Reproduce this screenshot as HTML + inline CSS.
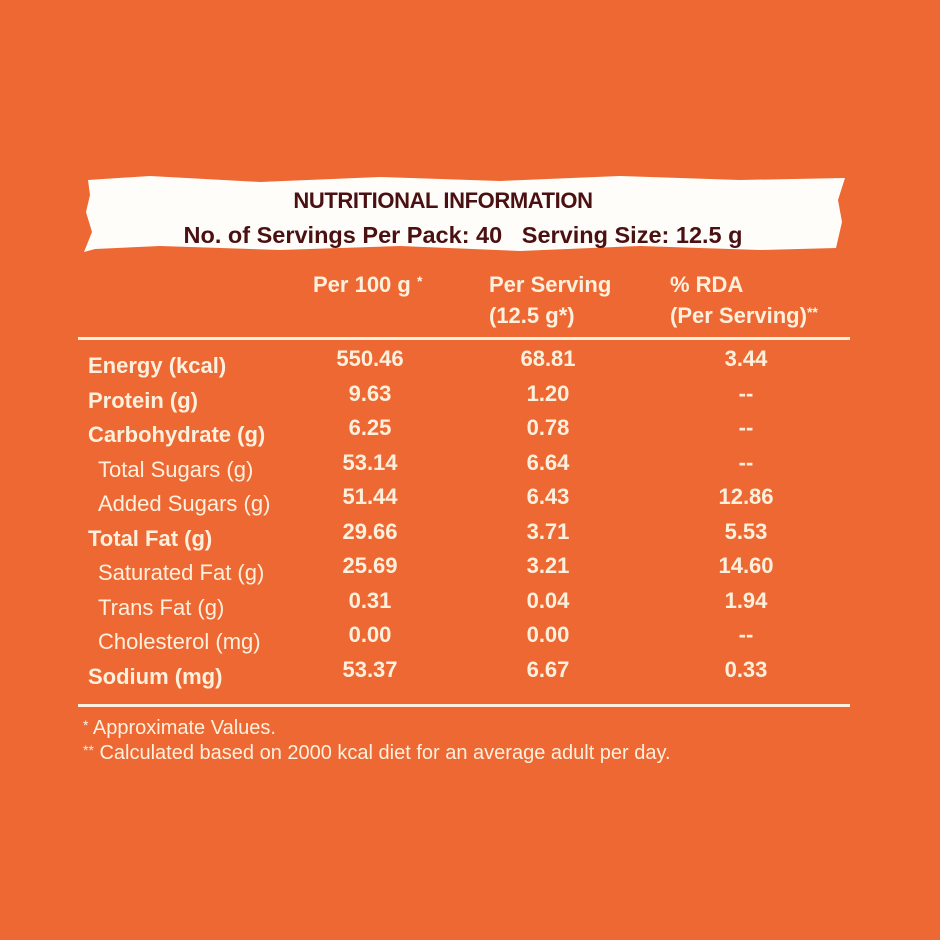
<!DOCTYPE html>
<html><head><meta charset="utf-8"><style>
html,body{margin:0;padding:0}
body{width:940px;height:940px;background:#ee6834;position:relative;overflow:hidden;font-family:"Liberation Sans",sans-serif;color:#fdf1de}
.t{position:absolute;white-space:nowrap;font-size:22px;line-height:1}
.b{font-weight:bold}
.c{transform:translateX(-50%)}
.ln{position:absolute;left:78px;width:772px;height:3px;background:#fdf1de}
.h{position:absolute;white-space:nowrap;font-weight:bold;color:#4a1012;font-size:24px;line-height:1;transform:translateX(-50%)}
</style></head><body>
<svg style="position:absolute;left:0;top:0" width="940" height="940">
<polygon fill="#fffdfa" points="88,180 150,176 260,182 380,177 500,181 620,176 740,180 845,178 838,200 842,222 836,248 760,250 640,246 520,251 400,246 280,250 160,246 95,249 84,252 92,232 86,212 90,195"/>
</svg>
<div class="h" style="left:443px;top:190px;font-size:22px;letter-spacing:-0.4px">NUTRITIONAL INFORMATION</div>
<div class="h" style="left:463px;top:224px;font-size:23.5px">No. of Servings Per Pack: 40&nbsp;&nbsp;&nbsp;Serving Size: 12.5 g</div>

<div class="t b" style="left:313px;top:274px">Per 100 g <span style="font-size:14px;vertical-align:top">*</span></div>
<div class="t b" style="left:489px;top:274px">Per Serving</div>
<div class="t b" style="left:489px;top:305px">(12.5 g*)</div>
<div class="t b" style="left:670px;top:274px">% RDA</div>
<div class="t b" style="left:670px;top:305px">(Per Serving)<span style="font-size:14px;vertical-align:top">**</span></div>
<div class="ln" style="top:337px"></div>

<div class="t b" style="left:88px;top:355px">Energy (kcal)</div>
<div class="t b" style="left:88px;top:390px">Protein (g)</div>
<div class="t b" style="left:88px;top:424px">Carbohydrate (g)</div>
<div class="t" style="left:98px;top:459px">Total Sugars (g)</div>
<div class="t" style="left:98px;top:493px">Added Sugars (g)</div>
<div class="t b" style="left:88px;top:528px">Total Fat (g)</div>
<div class="t" style="left:98px;top:562px">Saturated Fat (g)</div>
<div class="t" style="left:98px;top:597px">Trans Fat (g)</div>
<div class="t" style="left:98px;top:631px">Cholesterol (mg)</div>
<div class="t b" style="left:88px;top:666px">Sodium (mg)</div>

<div class="t b c" style="left:370px;top:348px">550.46</div>
<div class="t b c" style="left:370px;top:383px">9.63</div>
<div class="t b c" style="left:370px;top:417px">6.25</div>
<div class="t b c" style="left:370px;top:452px">53.14</div>
<div class="t b c" style="left:370px;top:486px">51.44</div>
<div class="t b c" style="left:370px;top:521px">29.66</div>
<div class="t b c" style="left:370px;top:555px">25.69</div>
<div class="t b c" style="left:370px;top:590px">0.31</div>
<div class="t b c" style="left:370px;top:624px">0.00</div>
<div class="t b c" style="left:370px;top:659px">53.37</div>

<div class="t b c" style="left:548px;top:348px">68.81</div>
<div class="t b c" style="left:548px;top:383px">1.20</div>
<div class="t b c" style="left:548px;top:417px">0.78</div>
<div class="t b c" style="left:548px;top:452px">6.64</div>
<div class="t b c" style="left:548px;top:486px">6.43</div>
<div class="t b c" style="left:548px;top:521px">3.71</div>
<div class="t b c" style="left:548px;top:555px">3.21</div>
<div class="t b c" style="left:548px;top:590px">0.04</div>
<div class="t b c" style="left:548px;top:624px">0.00</div>
<div class="t b c" style="left:548px;top:659px">6.67</div>

<div class="t b c" style="left:746px;top:348px">3.44</div>
<div class="t b c" style="left:746px;top:383px">--</div>
<div class="t b c" style="left:746px;top:417px">--</div>
<div class="t b c" style="left:746px;top:452px">--</div>
<div class="t b c" style="left:746px;top:486px">12.86</div>
<div class="t b c" style="left:746px;top:521px">5.53</div>
<div class="t b c" style="left:746px;top:555px">14.60</div>
<div class="t b c" style="left:746px;top:590px">1.94</div>
<div class="t b c" style="left:746px;top:624px">--</div>
<div class="t b c" style="left:746px;top:659px">0.33</div>

<div class="ln" style="top:704px"></div>
<div class="t" style="left:83px;top:718px;font-size:20px"><span style="font-size:14px;vertical-align:top">*</span> Approximate Values.</div>
<div class="t" style="left:83px;top:743px;font-size:20px"><span style="font-size:14px;vertical-align:top">**</span> Calculated based on 2000 kcal diet for an average adult per day.</div>
</body></html>
